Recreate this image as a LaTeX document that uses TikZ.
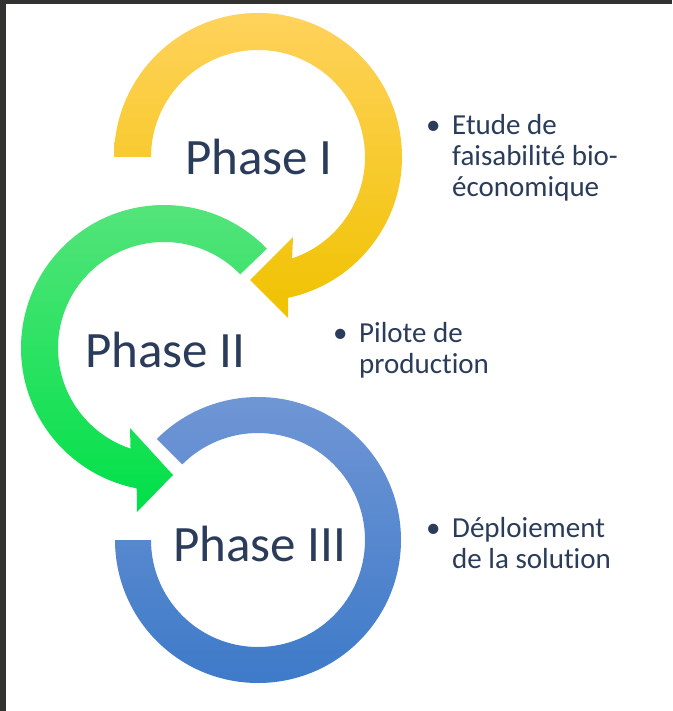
\documentclass[tikz,border=0pt]{standalone}
\usepackage{fontspec}
\setmainfont{Carlito}[Ligatures={NoCommon}]
\usetikzlibrary{calc}
\definecolor{frame}{RGB}{50,50,48}
\definecolor{yltop}{RGB}{255,210,92}
\definecolor{ylbot}{RGB}{240,194,0}
\definecolor{grtop}{RGB}{88,228,125}
\definecolor{grbot}{RGB}{0,224,72}
\definecolor{bltop}{RGB}{114,151,213}
\definecolor{blbot}{RGB}{59,121,200}
\definecolor{ink}{RGB}{42,60,90}
\tikzset{
  phase/.style={anchor=base west, inner sep=0pt, text=ink, font=\fontsize{51}{60}\selectfont},
  bullets/.style={anchor=base west, inner sep=0pt, text=ink, font=\fontsize{29}{31}\selectfont},
}
\newcommand{\bul}{\makebox[26pt][l]{•}}
\begin{document}
\begin{tikzpicture}[x=1pt,y=1pt]
\useasboundingbox (0,0) rectangle (672,-711);
\fill[white] (0,0) rectangle (672,-711);
\fill[frame] (0,0) rectangle (672,-4);
\fill[frame] (0,0) rectangle (6,-711);

% yellow ring (Phase I)
\coordinate (cy) at (258,-157);
\shade[top color=yltop, bottom color=ylbot]
  ($(cy)+(180:144)$) arc[start angle=180, end angle=-77.9, radius=144]
  -- (288,-318) -- (250,-280) -- (293,-237)
  -- ($(cy)+(-71.4:107)$) arc[start angle=-71.4, end angle=180, radius=107] -- cycle;

% green ring (Phase II)
\coordinate (cg) at (164,-348);
\shade[top color=grtop, bottom color=grbot]
  ($(cg)+(44:106)$) -- ($(cg)+(44:143)$) arc[start angle=44, end angle=259, radius=143]
  -- (137,-512) -- (173,-475) -- (130,-428)
  -- ($(cg)+(251.6:106)$) arc[start angle=251.6, end angle=44, radius=106] -- cycle;

% blue ring (Phase III)
\coordinate (cb) at (258,-540);
\shade[top color=bltop, bottom color=blbot]
  ($(cb)+(135:107)$) -- ($(cb)+(135:143)$) arc[start angle=135, end angle=-180, radius=143]
  -- ($(cb)+(180:107)$) arc[start angle=-180, end angle=135, radius=107] -- cycle;

% phase labels
\node[phase] (p1) at (185,-175) {Phase I};
\node[phase] (p2) at (85,-367) {Phase II};
\node[phase] (p3) at (173,-561) {Phase III};

% bullet texts
\node[bullets] (b1) at (426,-135) {\begin{tabular}[t]{@{}l@{}}\bul Etude de\\ \hspace*{26pt}faisabilité bio-\\ \hspace*{26pt}économique\end{tabular}};
\node[bullets] (b2) at (333,-342) {\begin{tabular}[t]{@{}l@{}}\bul Pilote de\\ \hspace*{26pt}production\end{tabular}};
\node[bullets] (b3) at (426,-537) {\begin{tabular}[t]{@{}l@{}}\bul Déploiement\\ \hspace*{26pt}de la solution\end{tabular}};
\end{tikzpicture}
\end{document}
